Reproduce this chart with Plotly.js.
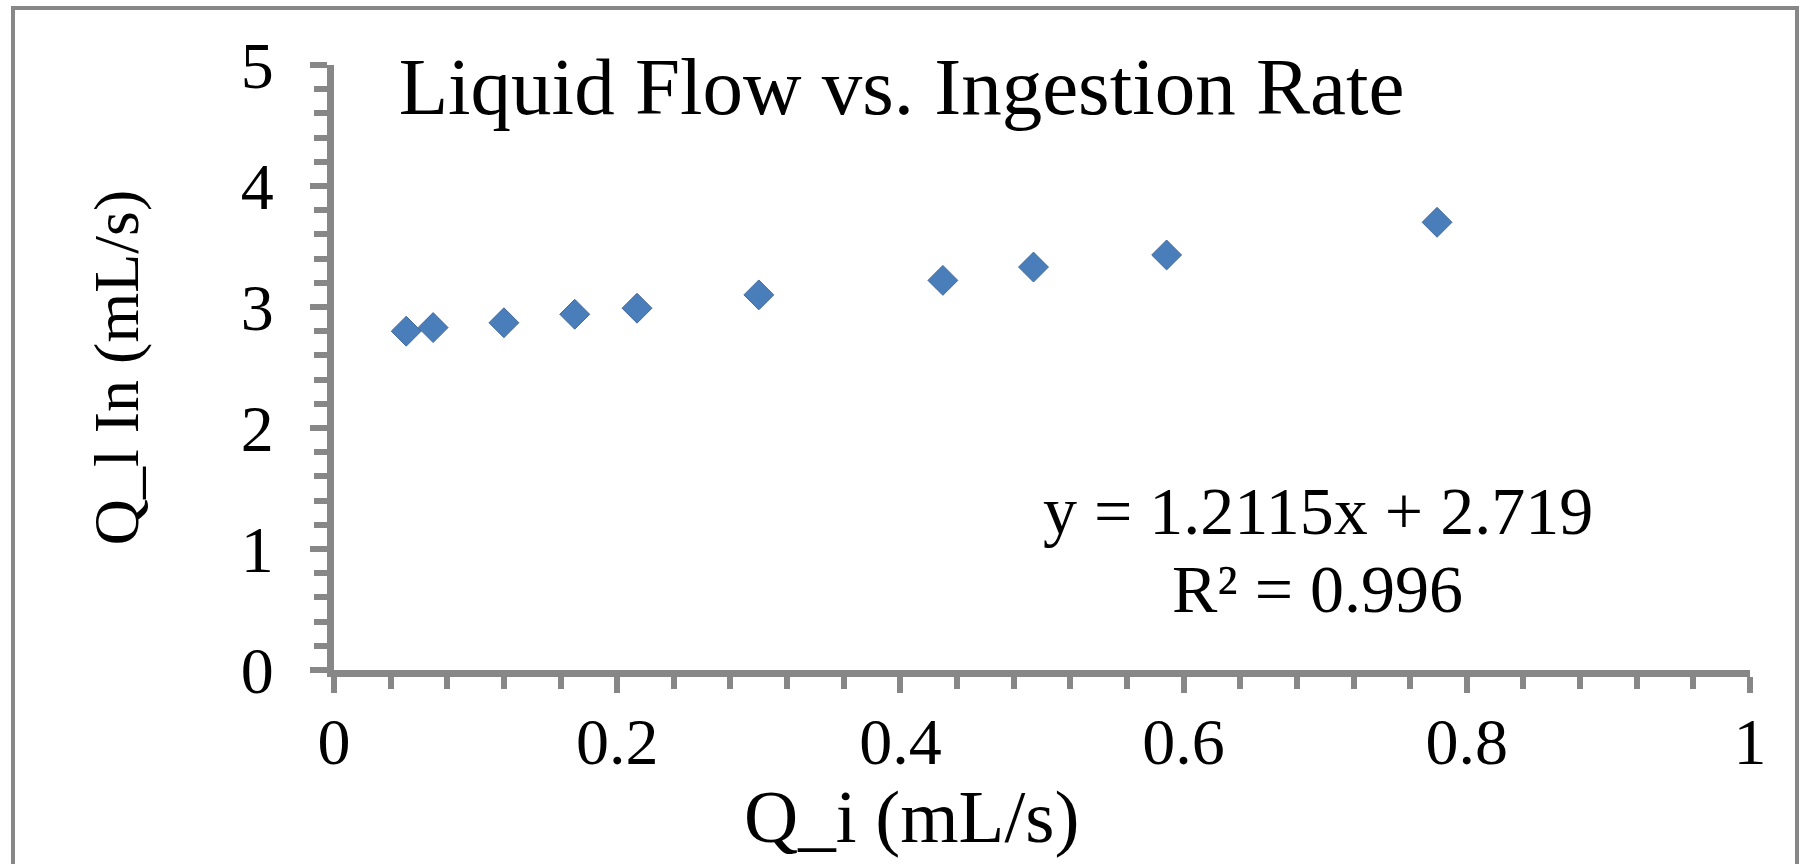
<!DOCTYPE html>
<html>
<head>
<meta charset="utf-8">
<script src="https://cdn.plot.ly/plotly-3.0.1.min.js"></script>
<style>
html, body { margin: 0; padding: 0; background: #ffffff; }
#chart { width: 1803px; height: 864px; }
</style>
</head>
<body>
<div id="chart"></div>
<script>
// ---- data ----
const qi = [0.051, 0.070, 0.120, 0.170, 0.214, 0.300, 0.430, 0.494, 0.588, 0.779];
const ql = [2.80, 2.83, 2.87, 2.94, 2.99, 3.10, 3.22, 3.33, 3.43, 3.70];
const xTickVals = [0, 0.2, 0.4, 0.6, 0.8, 1];
const xTickText = ['0', '0.2', '0.4', '0.6', '0.8', '1'];
const yTickVals = [0, 1, 2, 3, 4, 5];
const yTickText = ['0', '1', '2', '3', '4', '5'];
const chartTitle = 'Liquid Flow vs. Ingestion Rate';
const xTitle = 'Q_i (mL/s)';
const yTitle = 'Q_l In (mL/s)';
const eqLine = 'y = 1.2115x + 2.719';
const r2Line = 'R² = 0.996';

// ---- styling ----
const FONT = 'Liberation Serif, Times New Roman, serif';
const AXIS_GRAY = '#878787';

const trace = {
  type: 'scatter',
  mode: 'markers',
  x: qi,
  y: ql,
  marker: { symbol: 'diamond', size: 23, color: '#4A7EBB', line: { width: 1, color: '#44699C' } },
  hoverinfo: 'skip'
};

const layout = {
  width: 1803,
  height: 864,
  margin: { l: 334, r: 53, t: 65, b: 194 },
  paper_bgcolor: '#ffffff',
  plot_bgcolor: '#ffffff',
  showlegend: false,
  title: {
    text: chartTitle,
    font: { family: FONT, size: 81, color: '#000000' },
    xref: 'container', x: 0.5, xanchor: 'center',
    yref: 'container', y: 0.934, yanchor: 'top'
  },
  xaxis: {
    range: [0, 1],
    tickmode: 'array', tickvals: xTickVals, ticktext: xTickText,
    ticks: 'outside', ticklen: 16, tickwidth: 6, tickcolor: AXIS_GRAY,
    showline: true, linewidth: 7, linecolor: AXIS_GRAY,
    showgrid: false, zeroline: false,
    tickfont: { family: FONT, size: 66, color: '#000000' },
    ticklabelstandoff: -8,
    minor: { dtick: 0.04, tick0: 0, ticks: 'outside', ticklen: 12, tickwidth: 6, tickcolor: AXIS_GRAY, showgrid: false },
    fixedrange: true
  },
  yaxis: {
    range: [0, 5],
    tickmode: 'array', tickvals: yTickVals, ticktext: yTickText,
    ticks: 'outside', ticklen: 17, tickwidth: 6, tickcolor: AXIS_GRAY,
    showline: true, linewidth: 7, linecolor: AXIS_GRAY,
    showgrid: false, zeroline: false,
    tickfont: { family: FONT, size: 66, color: '#000000' },
    ticklabelstandoff: 23,
    minor: { dtick: 0.2, tick0: 0, ticks: 'outside', ticklen: 13, tickwidth: 6, tickcolor: AXIS_GRAY, showgrid: false },
    title: { text: yTitle, font: { family: FONT, size: 64, color: '#000000' }, standoff: 84 },
    fixedrange: true
  },
  annotations: [
    {
      text: xTitle, xref: 'paper', yref: 'paper', x: 0.408, y: -0.17,
      xanchor: 'center', yanchor: 'top', showarrow: false,
      font: { family: FONT, size: 75, color: '#000000' }
    },
    {
      text: eqLine, xref: 'paper', yref: 'paper', x: 0.6949, y: 0.2628,
      xanchor: 'center', yanchor: 'middle', showarrow: false,
      font: { family: FONT, size: 68, color: '#000000' }
    },
    {
      text: r2Line, xref: 'paper', yref: 'paper', x: 0.6949, y: 0.1339,
      xanchor: 'center', yanchor: 'middle', showarrow: false,
      font: { family: FONT, size: 68, color: '#000000' }
    }
  ],
  shapes: [
    {
      type: 'rect', xref: 'paper', yref: 'paper',
      x0: -0.2267, x1: 1.0332, y0: -0.35, y1: 1.0942,
      line: { width: 4, color: AXIS_GRAY }, fillcolor: 'rgba(0,0,0,0)', layer: 'below'
    }
  ]
};

Plotly.newPlot('chart', [trace], layout, { displayModeBar: false, staticPlot: true });
</script>
</body>
</html>
